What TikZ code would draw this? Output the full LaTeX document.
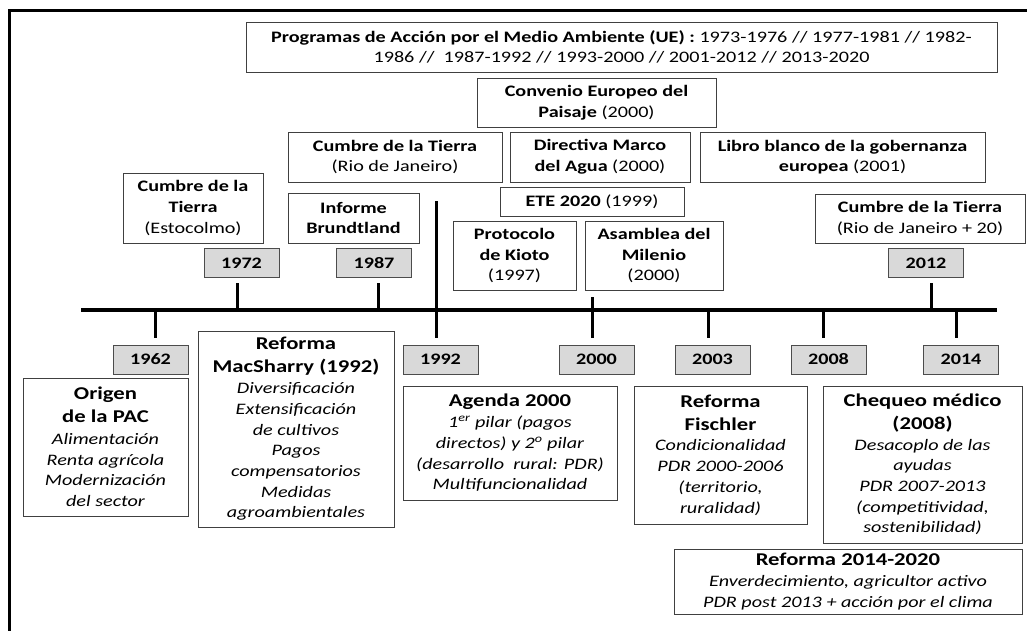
\documentclass[tikz,border=0pt]{standalone}
\usepackage{fontspec}
\setmainfont{Carlito}[FakeStretch=1.26]
\newcommand\hd{\fontsize{18}{20.7}\selectfont\bfseries}
\tikzset{
  box/.style={draw=black!75, line width=0.9pt, inner sep=1pt, align=center,
    font=\fontsize{16}{20.7}\selectfont},
  yr/.style={draw=black!70, fill=black!15, line width=0.9pt, minimum width=75pt,
    minimum height=29pt, inner sep=0pt, font=\fontsize{16}{20}\selectfont\bfseries},
  tickline/.style={line width=3pt},
  tline/.style={line width=4pt},
  outerframe/.style={line width=3pt},
}
\begin{document}
\begin{tikzpicture}[x=1pt,y=-1pt]
\useasboundingbox (0,0) rectangle (1027,630);
\clip (0,0) rectangle (1027,630);
\draw[outerframe] (9,10) rectangle (1045,650);

% top row boxes
\node[box, minimum width=751pt, minimum height=50pt] (pam) at (621.5,47)
  {{\bfseries Programas de Acción por el Medio Ambiente (UE) :} 1973-1976 // 1977-1981 // 1982-\\
   1986 //~~1987-1992 // 1993-2000 // 2001-2012 // 2013-2020};
\node[box, minimum width=239pt, minimum height=49pt] (conv) at (596.5,102.5)
  {{\bfseries Convenio Europeo del}\\{\bfseries Paisaje} (2000)};
\node[box, minimum width=214pt, minimum height=50pt] (rio) at (395,157)
  {{\bfseries Cumbre de la Tierra}\\(Rio de Janeiro)};
\node[box, minimum width=180pt, minimum height=50pt] (dma) at (600,157)
  {{\bfseries Directiva Marco}\\{\bfseries del Agua} (2000)};
\node[box, minimum width=285pt, minimum height=50pt] (libro) at (842.5,157)
  {{\bfseries Libro blanco de la gobernanza}\\{\bfseries europea} (2001)};
\node[box, minimum width=184pt, minimum height=29pt] (ete) at (592,201.5)
  {{\bfseries ETE 2020} (1999)};
\node[box, minimum width=123pt, minimum height=69pt] (kioto) at (514.5,255.5)
  {{\bfseries Protocolo}\\{\bfseries de Kioto}\\(1997)};
\node[box, minimum width=138pt, minimum height=69pt] (asam) at (654,255.5)
  {{\bfseries Asamblea del}\\{\bfseries Milenio}\\(2000)};
\node[box, minimum width=210pt, minimum height=49pt] (rioveinte) at (920,218.5)
  {{\bfseries Cumbre de la Tierra}\\(Rio de Janeiro + 20)};
\node[box, minimum width=140pt, minimum height=70pt] (esto) at (193,208)
  {{\bfseries Cumbre de la}\\{\bfseries Tierra}\\(Estocolmo)};
\node[box, minimum width=131pt, minimum height=50pt] (brund) at (353.5,218)
  {{\bfseries Informe}\\{\bfseries Brundtland}};

% year boxes
\node[yr] (y1972) at (241.5,263) {1972};
\node[yr] (y1987) at (374,263) {1987};
\node[yr] (y2012) at (926,263) {2012};
\node[yr] (y1962) at (150.5,359.5) {1962};
\node[yr] (y1992) at (440.5,359.5) {1992};
\node[yr] (y2000) at (596.5,359.5) {2000};
\node[yr] (y2003) at (712.5,359.5) {2003};
\node[yr] (y2008) at (828.5,359.5) {2008};
\node[yr] (y2014) at (961,359.5) {2014};

% timeline
\coordinate (tlL) at (81,310);
\coordinate (tlR) at (997,310);
\draw[tline] (tlL) -- (tlR);

\coordinate (c1972) at (237,310);
\coordinate (c1987) at (378,310);
\coordinate (c2012) at (931,310);
\coordinate (c1962) at (155,310);
\coordinate (c2000) at (592,310);
\coordinate (c2003) at (708,310);
\coordinate (c2008) at (823,310);
\coordinate (c2014) at (956,310);
\coordinate (top1992) at (436,201);

\draw[tickline] (c1972) -- ([yshift=-5pt]y1972.south -| c1972);
\draw[tickline] (c1987) -- ([yshift=-5pt]y1987.south -| c1987);
\draw[tickline] (c2012) -- ([yshift=-5pt]y2012.south -| c2012);
\draw[tickline] (c1962) -- ([yshift=7pt]y1962.north -| c1962);
\draw[tickline] (top1992) -- ([yshift=7pt]y1992.north -| top1992);
\draw[tickline] ([yshift=-7pt]asam.south -| c2000) -- ([yshift=7pt]y2000.north -| c2000);
\draw[tickline] (c2003) -- ([yshift=7pt]y2003.north -| c2003);
\draw[tickline] (c2008) -- ([yshift=7pt]y2008.north -| c2008);
\draw[tickline] (c2014) -- ([yshift=7pt]y2014.north -| c2014);

% bottom boxes
\node[box, minimum width=165pt, minimum height=138pt] (origen) at (105.5,447)
  {{\hd Origen}\\[2.3pt]{\hd de la PAC}\\[1pt]{\itshape Alimentación}\\{\itshape Renta agrícola}\\
   {\itshape Modernización}\\{\itshape del sector}};
\node[box, minimum width=196pt, minimum height=196pt] (macs) at (296,429)
  {{\hd Reforma}\\[2.3pt]{\hd MacSharry (1992)}\\{\itshape Diversificación}\\{\itshape Extensificación}\\
   {\itshape de cultivos}\\{\itshape Pagos}\\{\itshape compensatorios}\\{\itshape Medidas}\\
   {\itshape agroambientales}};
\node[box, minimum width=214pt, minimum height=114pt] (agenda) at (510,443)
  {{\hd Agenda 2000}\\{\itshape 1\textsuperscript{er} pilar (pagos}\\{\itshape directos) y 2\textsuperscript{o} pilar}\\
   {\itshape (desarrollo~ rural: PDR)}\\{\itshape Multifuncionalidad}};
\node[box, minimum width=173pt, minimum height=138pt] (fisch) at (720.5,455)
  {{\hd Reforma}\\[2.3pt]{\hd Fischler}\\{\itshape Condicionalidad}\\{\itshape PDR 2000-2006}\\
   {\itshape (territorio,}\\{\itshape ruralidad)}};
\node[box, minimum width=199pt, minimum height=157pt] (cheq) at (922.5,464.5)
  {{\hd Chequeo médico}\\[2.3pt]{\hd (2008)}\\{\itshape Desacoplo de las}\\{\itshape ayudas}\\
   {\itshape PDR 2007-2013}\\{\itshape (competitividad,}\\{\itshape sostenibilidad)}};
\node[box, minimum width=348pt, minimum height=65pt] (ref14) at (848,581.5)
  {{\hd Reforma 2014-2020}\\{\itshape Enverdecimiento, agricultor activo}\\
   {\itshape PDR post 2013 + acción por el clima}};
\end{tikzpicture}
\end{document}
